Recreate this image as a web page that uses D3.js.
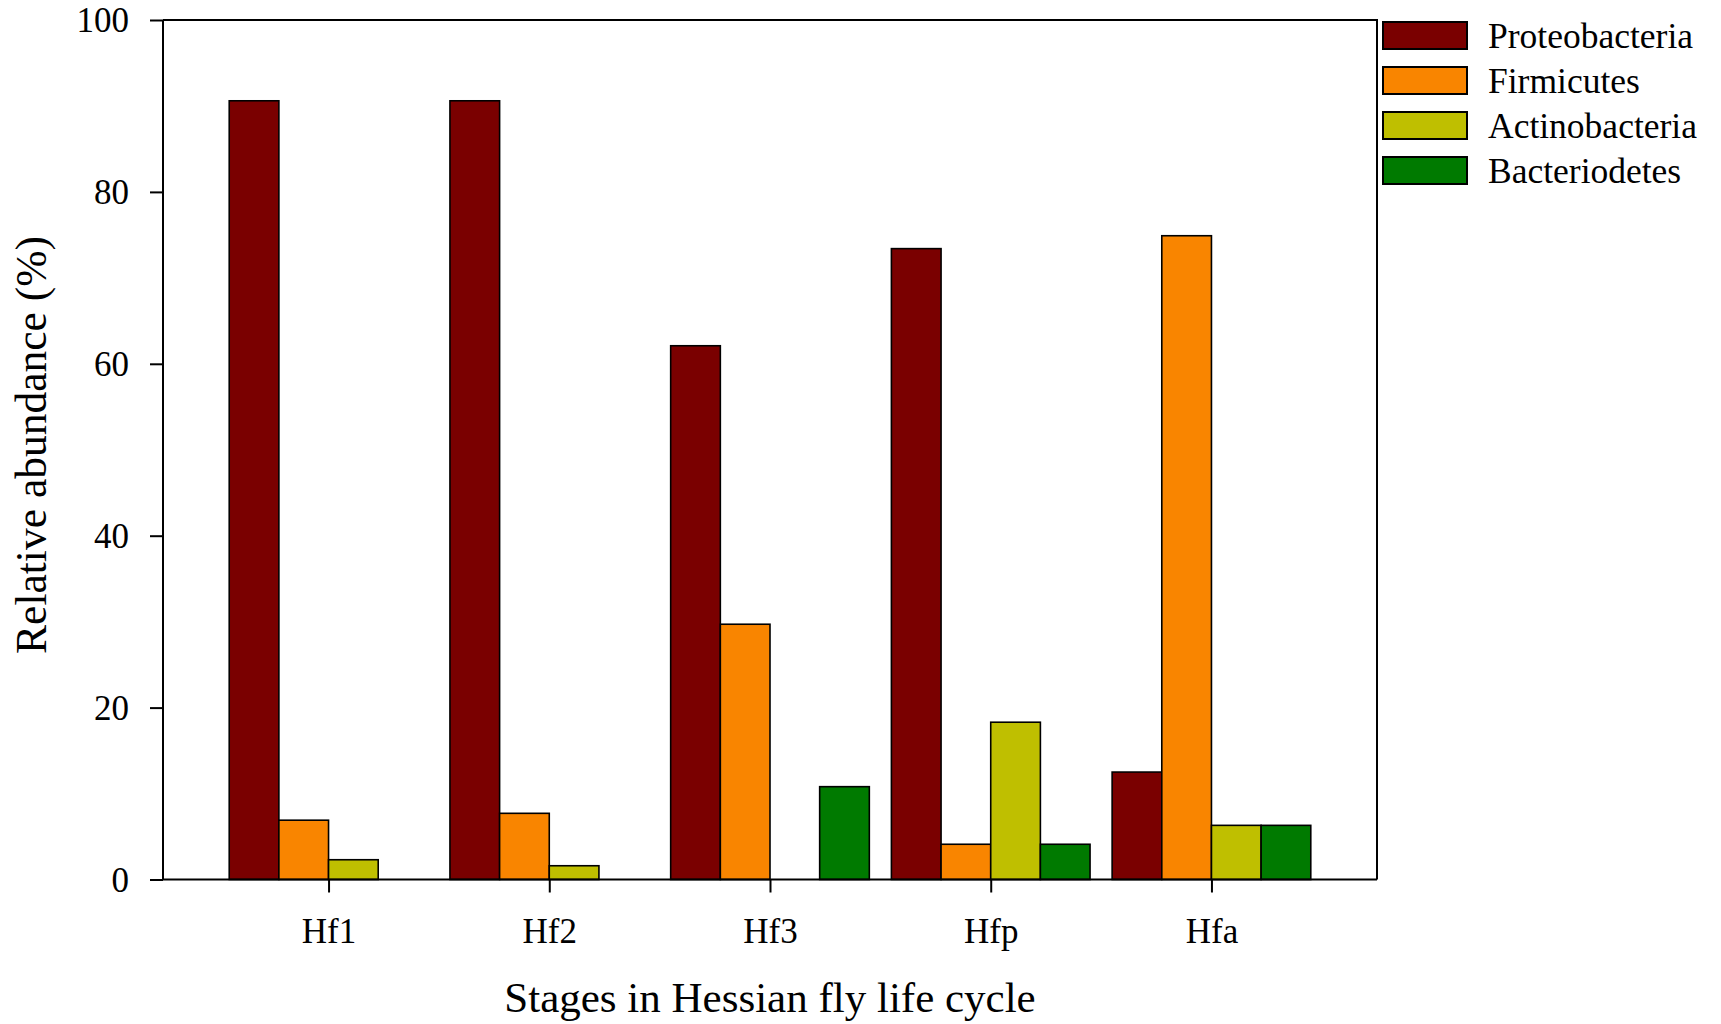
<!DOCTYPE html>
<html>
<head>
<meta charset="utf-8">
<script src="https://cdn.jsdelivr.net/npm/d3@7"></script>
<style>
  body { margin: 0; background: #fff; }
  text { font-family: "Liberation Serif", "Times New Roman", serif; fill: #000; }
</style>
</head>
<body>
<div id="chart"></div>
<script>
// data
var stages = ["Hf1", "Hf2", "Hf3", "Hfp", "Hfa"];
var phyla = ["Proteobacteria", "Firmicutes", "Actinobacteria", "Bacteriodetes"];
var proteobacteria = [90.6, 90.6, 62.1, 73.4, 12.5];
var firmicutes     = [6.9, 7.7, 29.7, 4.1, 74.9];
var actinobacteria = [2.3, 1.6, 0, 18.3, 6.3];
var bacteriodetes  = [0, 0, 10.8, 4.1, 6.3];
var colors = ["#7a0000", "#f98500", "#bfbf00", "#007a00"];
var yTicks = [0, 20, 40, 60, 80, 100];

var seriesValues = [proteobacteria, firmicutes, actinobacteria, bacteriodetes];

var margin = {top: 20, right: 344, bottom: 144.5, left: 163}
  , width = 1721 - margin.left - margin.right
  , height = 1024 - margin.top - margin.bottom;

var svg = d3.select("#chart").append("svg")
    .attr("width", 1721)
    .attr("height", 1024)
  .append("g")
    .attr("transform", "translate(" + margin.left + "," + margin.top + ")");

var x0 = d3.scalePoint()
    .domain(stages)
    .range([0, width])
    .padding(0.75);

var step = x0.step();
var x1 = d3.scaleBand()
    .domain(phyla)
    .range([-step * 0.45, step * 0.45]);

var y = d3.scaleLinear()
    .domain([0, 100])
    .range([height, 0]);

// bars
var rows = [];
stages.forEach(function(s, i) {
  phyla.forEach(function(p, j) {
    if (seriesValues[j][i] > 0) rows.push({stage: s, phylum: p, value: seriesValues[j][i], color: colors[j]});
  });
});

svg.selectAll(".bar")
    .data(rows)
  .enter().append("rect")
    .attr("class", "bar")
    .attr("x", function(d) { return x0(d.stage) + x1(d.phylum); })
    .attr("y", function(d) { return y(d.value); })
    .attr("width", x1.bandwidth())
    .attr("height", function(d) { return height - y(d.value); })
    .attr("fill", function(d) { return d.color; })
    .attr("stroke", "#000")
    .attr("stroke-width", 1.6);

// frame (top and right lines)
svg.append("path")
    .attr("d", "M0,0H" + width + "V" + height)
    .attr("fill", "none")
    .attr("stroke", "#000")
    .attr("stroke-width", 2);

// axes
var yAxis = svg.append("g")
    .call(d3.axisLeft(y).tickValues(yTicks).tickSize(13).tickPadding(21).tickFormat(d3.format("d")));

var xAxis = svg.append("g")
    .attr("transform", "translate(0," + height + ")")
    .call(d3.axisBottom(x0).tickSize(13).tickPadding(26));

[yAxis, xAxis].forEach(function(a) {
  a.select(".domain").attr("stroke", "#000").attr("stroke-width", 2);
  a.selectAll(".tick line").attr("stroke", "#000").attr("stroke-width", 2);
  a.selectAll(".tick text")
      .style("font-family", "'Liberation Serif', 'Times New Roman', serif")
      .style("font-size", "35px")
      .attr("fill", "#000");
});
xAxis.select(".domain").attr("d", "M0,0H" + width);
yAxis.select(".domain").attr("d", "M0," + height + "V0");
yAxis.selectAll(".tick text").attr("dy", "0.34em");

// axis titles
svg.append("text")
    .attr("x", width / 2)
    .attr("y", 1012 - margin.top)
    .attr("text-anchor", "middle")
    .style("font-size", "43px")
    .text("Stages in Hessian fly life cycle");

svg.append("text")
    .attr("transform", "translate(" + (46 - margin.left) + "," + (445 - margin.top) + ") rotate(-90)")
    .attr("text-anchor", "middle")
    .style("font-size", "43.5px")
    .text("Relative abundance (%)");

// legend
var legend = svg.append("g")
    .attr("transform", "translate(" + (width + 6) + ",2)");

var item = legend.selectAll(".item")
    .data(phyla)
  .enter().append("g")
    .attr("class", "item")
    .attr("transform", function(d, i) { return "translate(0," + (i * 45) + ")"; });

item.append("rect")
    .attr("width", 84)
    .attr("height", 27)
    .attr("fill", function(d, i) { return colors[i]; })
    .attr("stroke", "#000")
    .attr("stroke-width", 2);

item.append("text")
    .attr("x", 105)
    .attr("y", 13.5)
    .attr("dy", "0.35em")
    .style("font-size", "35.5px")
    .text(function(d) { return d; });
</script>
</body>
</html>
